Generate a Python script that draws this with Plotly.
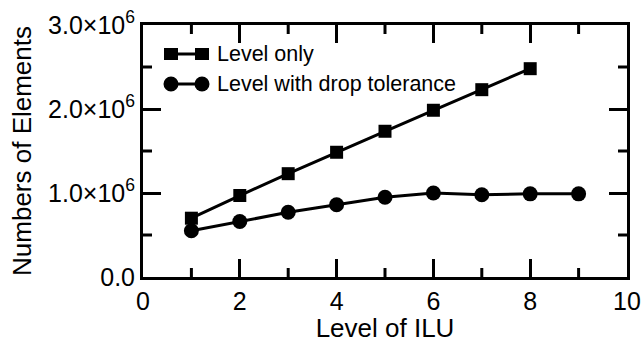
import plotly.graph_objects as go

# Data
levels_only = [1, 2, 3, 4, 5, 6, 7, 8]
elems_level_only = [0.70e6, 0.97e6, 1.23e6, 1.485e6, 1.735e6, 1.985e6, 2.23e6, 2.48e6]
levels_drop = [1, 2, 3, 4, 5, 6, 7, 8, 9]
elems_level_drop = [0.55e6, 0.66e6, 0.77e6, 0.86e6, 0.95e6, 1.00e6, 0.98e6, 0.99e6, 0.99e6]

series_names = ["Level only", "Level with drop tolerance"]
y_label_alias = {"0": "0.0", "1M": "1.0×10<sup>6</sup>", "2M": "2.0×10<sup>6</sup>", "3M": "3.0×10<sup>6</sup>"}
x_major_ticks = [0, 2, 4, 6, 8, 10]
x_minor_ticks = [1, 3, 5, 7, 9]
y_major_ticks = [0, 1e6, 2e6, 3e6]
y_minor_ticks = [0.5e6, 1.5e6, 2.5e6]
x_range = [0, 10]
y_range = [0, 3e6]

FONT = "Liberation Sans, Arial, Helvetica, sans-serif"
AXIS_COLOR = "black"
W, H = 644, 343
ML, MR, MT, MB = 143, 17, 25, 66
MAJOR_LEN, MINOR_LEN = 18, 9

fig = go.Figure()
fig.add_trace(go.Scatter(
    x=levels_only, y=elems_level_only, mode="lines+markers", name=series_names[0],
    line=dict(color="black", width=3),
    marker=dict(symbol="square", size=13, color="black"),
    showlegend=False,
))
fig.add_trace(go.Scatter(
    x=levels_drop, y=elems_level_drop, mode="lines+markers", name=series_names[1],
    line=dict(color="black", width=3),
    marker=dict(symbol="circle", size=15, color="black"),
    showlegend=False,
))

pw, ph = W - ML - MR, H - MT - MB
shapes = []
annotations = []

# Minor ticks (inward, all four sides), length converted from pixels to axis units
dy = MINOR_LEN * (y_range[1] - y_range[0]) / ph
dx = MINOR_LEN * (x_range[1] - x_range[0]) / pw
tick_line = dict(color=AXIS_COLOR, width=3)
for v in x_minor_ticks:
    shapes.append(dict(type="line", xref="x", yref="y", x0=v, x1=v,
                       y0=y_range[0], y1=y_range[0] + dy, line=tick_line))
    shapes.append(dict(type="line", xref="x", yref="y", x0=v, x1=v,
                       y0=y_range[1] - dy, y1=y_range[1], line=tick_line))
for v in y_minor_ticks:
    shapes.append(dict(type="line", xref="x", yref="y", y0=v, y1=v,
                       x0=x_range[0], x1=x_range[0] + dx, line=tick_line))
    shapes.append(dict(type="line", xref="x", yref="y", y0=v, y1=v,
                       x0=x_range[1] - dx, x1=x_range[1], line=tick_line))

# Custom legend (line with a marker at both ends)
def px_x(p):
    return (p - ML) / pw
def px_y(p):
    return 1 - (p - MT) / ph

legend_rows = [(54, "square"), (84, "circle")]
for (yc, sym), name in zip(legend_rows, series_names):
    shapes.append(dict(type="line", xref="paper", yref="paper",
                       x0=px_x(171), x1=px_x(202), y0=px_y(yc), y1=px_y(yc),
                       line=dict(color="black", width=3)))
    for xc in (171, 202):
        half_w = 7 if sym == "square" else 7.5
        half_h = 6 if sym == "square" else 7.5
        shapes.append(dict(type="rect" if sym == "square" else "circle",
                           xref="paper", yref="paper",
                           x0=px_x(xc - half_w), x1=px_x(xc + half_w),
                           y0=px_y(yc + half_h), y1=px_y(yc - half_h),
                           fillcolor="black", line=dict(width=0)))
    annotations.append(dict(xref="paper", yref="paper", x=px_x(215), y=px_y(yc),
                            xanchor="left", yanchor="middle", showarrow=False,
                            text=name, font=dict(family=FONT, size=21.5, color="black")))

axis_common = dict(
    automargin=False,
    showline=True, linecolor=AXIS_COLOR, linewidth=3, mirror="ticks",
    ticks="inside", ticklen=MAJOR_LEN, tickwidth=3, tickcolor=AXIS_COLOR,
    showgrid=False, zeroline=False,
    tickfont=dict(family=FONT, size=25, color="black"),
)

fig.update_layout(
    width=W, height=H,
    margin=dict(l=ML, r=MR, t=MT, b=MB),
    paper_bgcolor="white", plot_bgcolor="white",
    shapes=shapes, annotations=annotations,
    xaxis=dict(range=x_range, tickmode="array", tickvals=x_major_ticks,
               title=dict(text="Level of ILU", font=dict(family=FONT, size=26, color="black"), standoff=0),
               **axis_common),
    yaxis=dict(range=y_range, tickmode="array", tickvals=y_major_ticks, labelalias=y_label_alias,
               title=dict(text="Numbers of Elements", font=dict(family=FONT, size=26, color="black"), standoff=9),
               **axis_common),
)

fig.write_html("out.html")
